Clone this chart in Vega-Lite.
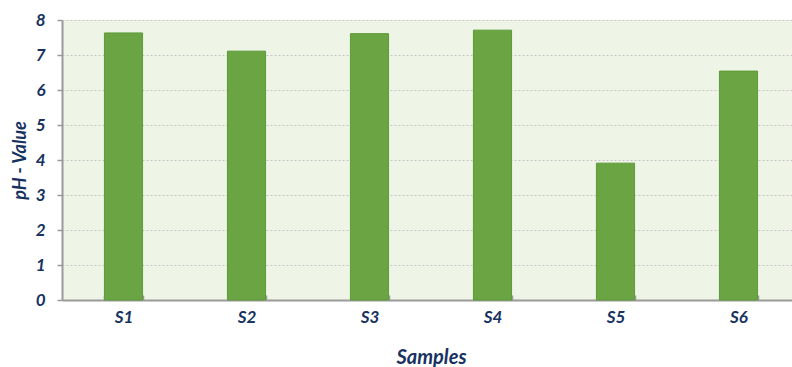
{
  "$schema": "https://vega.github.io/schema/vega-lite/v6.json",
  "autosize": "none",
  "padding": {"left": 62, "top": 20, "right": 0, "bottom": 67},
  "width": 738,
  "height": 280,
  "background": "white",
  "config": {
    "view": {"fill": "#eef5e7", "stroke": null},
    "font": "Lato"
  },
  "data": {
    "values": [
      {"sample": "S1", "ph": 7.63},
      {"sample": "S2", "ph": 7.11},
      {"sample": "S3", "ph": 7.61},
      {"sample": "S4", "ph": 7.71},
      {"sample": "S5", "ph": 3.91},
      {"sample": "S6", "ph": 6.54}
    ]
  },
  "mark": {"type": "bar", "fill": "#6aa443", "stroke": "#5c9a37", "strokeWidth": 1},
  "encoding": {
    "x": {
      "field": "sample",
      "type": "nominal",
      "sort": null,
      "scale": {"paddingInner": 0.69, "paddingOuter": 0.345},
      "axis": {
        "title": "Samples",
        "labelAngle": 0,
        "labelFont": "Lato",
        "labelFontSize": 17,
        "labelFontWeight": "bold",
        "labelFontStyle": "italic",
        "labelColor": "#17325f",
        "labelPadding": 14,
        "tickBand": "extent",
        "tickSize": -5,
        "tickColor": "#9a9a9a",
        "tickWidth": 1.5,
        "domainColor": "#9a9a9a",
        "domainWidth": 2,
        "titleFont": "Lato",
        "titleFontSize": 20,
        "titleFontWeight": "bold",
        "titleFontStyle": "italic",
        "titleColor": "#17325f",
        "titleY": 67,
        "titleBaseline": "bottom",
        "grid": false
      }
    },
    "y": {
      "field": "ph",
      "type": "quantitative",
      "scale": {"domain": [0, 8], "nice": false},
      "axis": {
        "title": "pH - Value",
        "values": [0, 1, 2, 3, 4, 5, 6, 7, 8],
        "labelFont": "Lato",
        "labelFontSize": 17,
        "labelFontWeight": "bold",
        "labelFontStyle": "italic",
        "labelColor": "#17325f",
        "labelPadding": 12,
        "tickSize": 5,
        "tickColor": "#9a9a9a",
        "tickWidth": 1.5,
        "domainColor": "#9a9a9a",
        "domainWidth": 2,
        "grid": true,
        "gridColor": "#c4c4c4",
        "gridDash": [2, 2],
        "gridWidth": 1,
        "titleFont": "Lato",
        "titleFontSize": 18,
        "titleFontWeight": "bold",
        "titleFontStyle": "italic",
        "titleColor": "#17325f",
        "titleAngle": -90,
        "titleAlign": "center",
        "titleBaseline": "middle",
        "titleX": -42,
        "titleY": 140
      }
    }
  }
}
